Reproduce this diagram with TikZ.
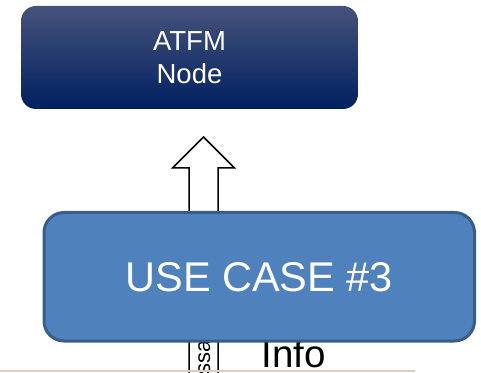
\documentclass[tikz,border=0pt]{standalone}
\usepackage{fontspec}
\setmainfont{Liberation Sans}
\definecolor{navytop}{RGB}{70,82,122}
\definecolor{navy}{RGB}{0,32,96}
\definecolor{ucfill}{RGB}{79,129,189}
\definecolor{ucline}{RGB}{56,93,138}
\definecolor{tanline}{RGB}{228,204,182}
\begin{document}
\begin{tikzpicture}[x=1pt, y=1pt,
        box/.style={rounded corners=#1, align=center, text=white, inner sep=0pt},
        blockarrow/.style={line width=1.5pt, fill=white, line join=miter}]
    \useasboundingbox (0,0) rectangle (481,372);
    \clip (0,0) rectangle (481,372);

    % top node
    \node[box=15pt, top color=navytop, middle color=navy, bottom color=navy,
          minimum width=337pt, minimum height=103pt,
          font=\fontsize{27.5}{33}\selectfont] (atfm) at (189.5,314.5) {ATFM\\Node};

    % hollow arrow going up behind the use case
    \coordinate (tip) at (203.5,235);
    \draw[blockarrow] (tip) -- ++(31,-31) -- ++(-16.5,0) -- ++(0,-240)
        -- ++(-29,0) -- ++(0,240) -- ++(-16.5,0) -- cycle;
    \node[rotate=90, anchor=base, inner sep=0pt,
          font=\fontsize{22}{26}\selectfont] (msg) at (210,12) {Message};

    \node[anchor=base west, inner sep=0pt,
          font=\fontsize{38.5}{42}\selectfont] (info) at (261.5,5) {Info};

    % use case box
    \node[box=20pt, fill=ucfill, draw=ucline, line width=3pt,
          minimum width=430.5pt, minimum height=128.5pt,
          font=\fontsize{41.5}{48}\selectfont] (usecase) at (259.25,95.25) {USE CASE \#3};

    \coordinate (lineL) at (0,1);
    \coordinate (lineR) at (415,1);
    \draw[tanline, line width=1.5pt] (lineL) -- (lineR);
\end{tikzpicture}
\end{document}
